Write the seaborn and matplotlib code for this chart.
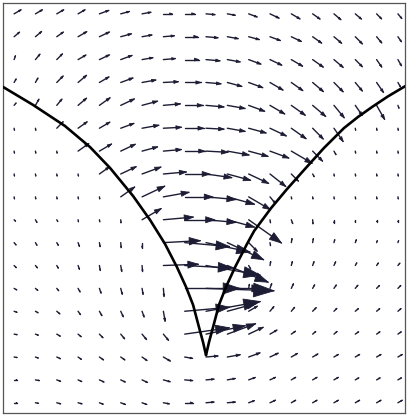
import numpy as np
import matplotlib
matplotlib.use("Agg")
import matplotlib.pyplot as plt
from matplotlib.collections import LineCollection, PolyCollection
import seaborn as sns

# Sample grid of the velocity field (columns left->right, rows top->bottom)
x_cols = np.linspace(-0.95, 0.95, 19)
y_rows = np.linspace(1.95, 0.05, 18)

# Field magnitude at each grid node (rows top->bottom)
speed = np.array([
    [8, 8, 8, 8, 10, 9, 9, 9, 10, 9, 8, 9, 10, 10, 9, 9, 8, 7, 6],
    [7, 8, 8, 10, 11, 11, 10, 11, 13, 12, 11, 11, 11, 11, 11, 10, 10, 8, 6],
    [4, 7, 8, 9, 11, 12, 11, 12, 14, 14, 13, 13, 13, 13, 13, 12, 10, 9, 7],
    [4, 5, 9, 11, 11, 13, 14, 15, 16, 15, 15, 15, 15, 14, 14, 13, 11, 12, 5],
    [3, 7, 8, 11, 13, 15, 16, 17, 18, 18, 18, 17, 17, 17, 17, 16, 12, 16, 3],
    [2, 2, 9, 11, 12, 14, 17, 18, 19, 18, 18, 18, 18, 18, 15, 16, 2, 2, 2],
    [2, 2, 2, 13, 14, 16, 16, 18, 20, 22, 22, 20, 20, 24, 14, 4, 2, 2, 2],
    [2, 2, 2, 2, 12, 17, 20, 23, 25, 26, 24, 22, 20, 10, 3, 2, 2, 2, 2],
    [2, 2, 2, 2, 2, 17, 25, 26, 28, 30, 28, 25, 8, 2, 2, 2, 2, 2, 2],
    [2, 3, 2, 2, 2, 3, 22, 30, 30, 30, 28, 40, 3, 4, 4, 3, 2, 2, 2],
    [3, 3, 3, 4, 4, 5, 5, 37, 45, 45, 40, 12, 3, 4, 4, 3, 3, 2, 2],
    [3, 3, 3, 4, 5, 6, 6, 35, 48, 55, 44, 4, 4, 4, 4, 4, 3, 3, 3],
    [3, 3, 3, 4, 5, 6, 6, 8, 55, 68, 35, 4, 5, 5, 4, 4, 4, 4, 4],
    [3, 3, 4, 4, 5, 6, 6, 10, 45, 55, 30, 10, 6, 5, 5, 4, 4, 4, 4],
    [3, 3, 4, 4, 5, 6, 7, 8, 45, 40, 30, 16, 8, 5, 4, 4, 4, 4, 4],
    [3, 3, 4, 4, 5, 5, 6, 8, 8, 12, 13, 12, 9, 7, 6, 5, 5, 5, 5],
    [3, 4, 4, 4, 5, 5, 6, 7, 8, 8, 8, 7, 6, 5, 5, 5, 4, 4, 4],
    [3, 3, 4, 4, 4, 5, 5, 6, 8, 8, 8, 6, 6, 5, 5, 5, 5, 5, 5],
], dtype=float)

# Flow direction at each grid node, degrees counter-clockwise from +x
direction = np.array([
    [30, 30, 30, 30, 20, 15, 10, 0, 0, -5, -10, -20, -25, -30, -35, -40, -40, -45, -50],
    [40, 40, 35, 30, 25, 15, 10, 5, 0, -5, -10, -15, -20, -25, -35, -40, -45, -50, -55],
    [70, 50, 45, 30, 25, 20, 10, 5, 0, -5, -10, -20, -25, -30, -35, -40, -45, -55, -60],
    [60, 60, 45, 40, 30, 20, 10, 3, 0, -5, -15, -20, -30, -35, -40, -45, -50, -55, -60],
    [50, 60, 50, 40, 35, 25, 15, 5, 0, -5, -10, -20, -30, -35, -40, -50, -55, -60, -70],
    [-80, -80, 45, 35, 30, 20, 10, 3, 0, -3, -10, -15, -25, -35, -45, -55, -80, -80, -80],
    [-80, -80, -80, 35, 30, 25, 15, 5, 0, -3, -10, -15, -20, -30, -45, -60, -80, -80, -80],
    [-80, -80, -80, -80, 35, 25, 20, 5, 0, -8, -15, -25, -38, -45, -60, -80, -80, -80, -80],
    [-80, -80, -80, -80, -80, 35, 25, 10, 0, -5, -15, -30, -50, -80, -80, -80, -80, -80, -80],
    [-45, -60, -60, -80, -80, -85, 30, 5, 0, -5, -15, -35, -80, -70, -85, -90, -90, -90, -90],
    [-50, -60, -60, -70, -80, -85, -90, 3, -5, -12, -25, -45, -80, 80, 80, 75, 70, 70, 70],
    [-45, -50, -60, -70, -80, -80, -85, 2, -3, -10, -22, -60, 80, 75, 70, 65, 60, 55, 50],
    [-30, -40, -50, -60, -70, -75, -80, -85, 0, -2, 0, 80, 70, 65, 60, 55, 50, 45, 45],
    [-20, -30, -40, -55, -60, -65, -70, -80, 5, 10, 15, 30, 50, 50, 45, 45, 40, 40, 40],
    [-10, -20, -30, -40, -45, -50, -50, -50, 8, 12, 20, 25, 30, 35, 40, 40, 35, 35, 35],
    [-10, -20, -25, -35, -35, -35, -35, -30, -10, 5, 10, 20, 25, 30, 30, 30, 30, 30, 30],
    [0, -10, -20, -25, -25, -25, -25, -15, -5, 5, 10, 20, 25, 30, 30, 30, 30, 30, 30],
    [0, -10, -15, -15, -20, -20, -20, -10, 0, 5, 5, 20, 25, 30, 30, 30, 30, 30, 30],
], dtype=float)

# Boundary curves meeting at the cusp
left_x = [-1.005, -0.856, -0.698, -0.574, -0.475, -0.361, -0.277, -0.203,
          -0.144, -0.099, -0.064, -0.035, -0.015, 0.0]
left_y = [1.593, 1.505, 1.402, 1.299, 1.197, 1.060, 0.943, 0.826,
          0.713, 0.616, 0.528, 0.420, 0.347, 0.283]
right_x = [0.0, 0.015, 0.035, 0.064, 0.099, 0.144, 0.203, 0.238, 0.322,
           0.401, 0.485, 0.584, 0.683, 0.752, 0.822, 0.901, 0.995]
right_y = [0.283, 0.347, 0.420, 0.528, 0.616, 0.713, 0.826, 0.889, 1.001,
           1.094, 1.187, 1.295, 1.392, 1.446, 1.495, 1.547, 1.602]

MAG_PER_UNIT = 202.0   # field magnitude per axis unit
HEAD_LEN = 0.30        # arrow head length relative to arrow
HEAD_WIDTH = 0.33      # head half-width relative to head length
ARROW_COLOR = "#1c1c34"

sns.set_style("white")

fig = plt.figure(figsize=(4.09, 4.17), dpi=100)
ax = fig.add_axes([3 / 409, 4 / 417, 402 / 409, 410 / 417])

X, Y = np.meshgrid(x_cols, y_rows)
theta = np.deg2rad(direction)
U = speed * np.cos(theta) / MAG_PER_UNIT
V = speed * np.sin(theta) / MAG_PER_UNIT

# Arrows: shaft plus a head sized with each vector
tx, ty = X + U, Y + V
b1x = tx - HEAD_LEN * (U + HEAD_WIDTH * V)
b1y = ty - HEAD_LEN * (V - HEAD_WIDTH * U)
b2x = tx - HEAD_LEN * (U - HEAD_WIDTH * V)
b2y = ty - HEAD_LEN * (V + HEAD_WIDTH * U)

shafts, heads = [], []
for i in range(X.shape[0]):
    for j in range(X.shape[1]):
        shafts.append([(X[i, j], Y[i, j]), (tx[i, j], ty[i, j])])
        heads.append([(b1x[i, j], b1y[i, j]), (tx[i, j], ty[i, j]),
                      (b2x[i, j], b2y[i, j])])

ax.add_collection(LineCollection(shafts, colors=ARROW_COLOR, linewidths=1.0,
                                 capstyle="round", zorder=2))
ax.add_collection(PolyCollection(heads, facecolors=ARROW_COLOR,
                                 edgecolors=ARROW_COLOR, linewidths=0.6,
                                 joinstyle="round", zorder=2))

# Boundary curves
sns.lineplot(x=left_x, y=left_y, sort=False, estimator=None, color="black",
             linewidth=1.9, ax=ax, zorder=3)
sns.lineplot(x=right_x, y=right_y, sort=False, estimator=None, color="black",
             linewidth=1.9, ax=ax, zorder=3)
for line in ax.lines:
    line.set_solid_joinstyle("round")

ax.set_xlim(-1.005, 0.985)
ax.set_ylim(0.0, 2.003)
ax.set_xticks([])
ax.set_yticks([])
ax.set_xlabel("")
ax.set_ylabel("")
for side in ax.spines.values():
    side.set_visible(True)
    side.set_color("#555555")
    side.set_linewidth(0.9)

fig.savefig("out.png", dpi=100, facecolor="white")
